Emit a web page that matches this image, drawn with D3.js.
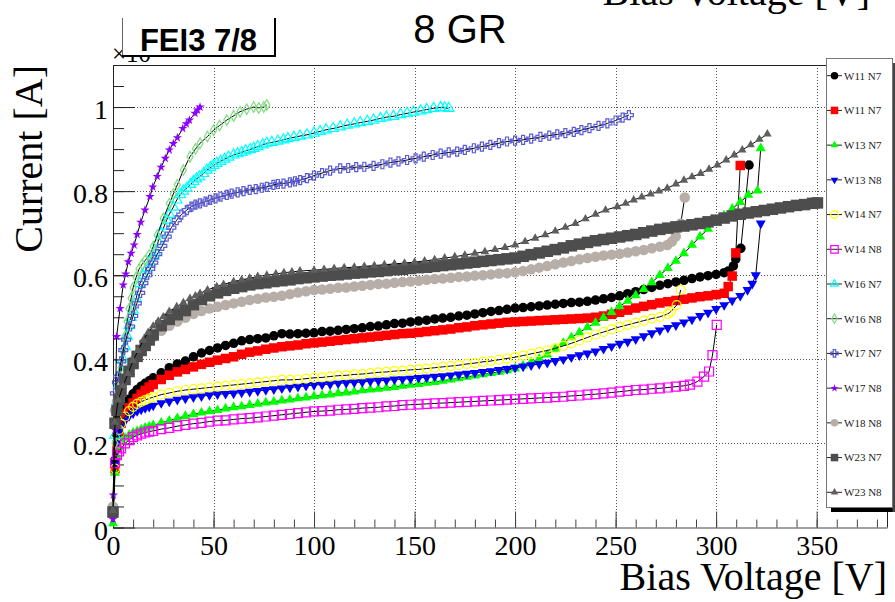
<!DOCTYPE html>
<html>
<head>
<meta charset="utf-8">
<script src="https://cdn.jsdelivr.net/npm/d3@7"></script>
<style>
  html, body { margin: 0; padding: 0; background: #fff; }
  svg { display: block; }
</style>
</head>
<body>
<svg id="chart" width="895" height="602"></svg>
<script>
// ---------------------------------------------------------------
// I-V scans of FE-I3 7/8 sensors, 8 guard rings.
// Current is in units of 1e-3 A, bias voltage in V.
// ---------------------------------------------------------------

// Bias steps of the standard sweep (V)
const sweepV = [0, 1, 2, 3, 4, 6, 8, 10, 12, 14, 16, 18, 20,
  24, 28, 32, 36, 40, 44, 48, 52, 56, 60, 64, 68, 72, 76, 80, 84, 88, 92, 96, 100,
  104, 108, 112, 116, 120, 124, 128, 132, 136, 140, 144, 148, 152, 156, 160, 164, 168, 172, 176, 180, 184, 188, 192, 196, 200,
  204, 208, 212, 216, 220, 224, 228, 232, 236, 240, 244, 248, 252, 256, 260, 264, 268, 272, 276, 280, 284, 288, 292, 296, 300, 304,
  308, 312, 316, 320, 324, 328, 332, 336, 340, 344, 348];

// W11 N7 (black) - sweep currents, then points through breakdown
const iW11N7a = [0.030, 0.160, 0.220, 0.252, 0.268, 0.288, 0.305, 0.318, 0.328, 0.336, 0.343, 0.349, 0.356,
  0.368, 0.380, 0.389, 0.396, 0.406, 0.415, 0.421, 0.427, 0.433, 0.438, 0.444, 0.447, 0.449, 0.451, 0.456, 0.461, 0.460, 0.461, 0.462, 0.463,
  0.466, 0.467, 0.469, 0.471, 0.473, 0.475, 0.478, 0.479, 0.482, 0.485, 0.486, 0.489, 0.491, 0.493, 0.496, 0.498, 0.500, 0.503, 0.505, 0.508, 0.511, 0.514, 0.516, 0.519, 0.522,
  0.523, 0.525, 0.527, 0.529, 0.531, 0.533, 0.535, 0.536, 0.538, 0.541, 0.544, 0.547, 0.551, 0.556, 0.561, 0.566, 0.571, 0.576, 0.580, 0.584, 0.588, 0.592, 0.596, 0.599, 0.602, 0.606];
const tailVW11N7a = [306, 308.6, 309.8, 312.3, 316.4];
const tailIW11N7a = [0.610, 0.622, 0.638, 0.664, 0.862];

// W11 N7 (red)
const iW11N7b = [0.035, 0.140, 0.190, 0.228, 0.248, 0.270, 0.285, 0.296, 0.307, 0.317, 0.326, 0.334, 0.340,
  0.352, 0.362, 0.370, 0.376, 0.382, 0.388, 0.393, 0.398, 0.402, 0.406, 0.412, 0.417, 0.420, 0.424, 0.427, 0.430, 0.432, 0.434, 0.437, 0.439,
  0.441, 0.443, 0.445, 0.447, 0.449, 0.451, 0.453, 0.455, 0.457, 0.459, 0.461, 0.462, 0.464, 0.466, 0.468, 0.470, 0.472, 0.475, 0.477, 0.480, 0.482, 0.484, 0.486, 0.488, 0.489,
  0.490, 0.491, 0.492, 0.493, 0.494, 0.495, 0.496, 0.497, 0.498, 0.500, 0.503, 0.507, 0.512, 0.517, 0.522, 0.526, 0.530, 0.534, 0.537, 0.540, 0.543, 0.546, 0.549, 0.551, 0.554, 0.557];
const tailVW11N7b = [306, 308, 309.8, 312];
const tailIW11N7b = [0.573, 0.598, 0.653, 0.861];

// W13 N7 (green)
const iW13N7 = [0.010, 0.130, 0.170, 0.192, 0.203, 0.213, 0.220, 0.225, 0.229, 0.233, 0.237, 0.240, 0.243,
  0.249, 0.254, 0.260, 0.265, 0.269, 0.273, 0.276, 0.279, 0.283, 0.286, 0.288, 0.291, 0.294, 0.297, 0.299, 0.302, 0.304, 0.307, 0.309, 0.312,
  0.314, 0.316, 0.319, 0.321, 0.323, 0.326, 0.328, 0.330, 0.332, 0.334, 0.337, 0.339, 0.341, 0.344, 0.346, 0.349, 0.352, 0.355, 0.358, 0.361, 0.364, 0.367, 0.370, 0.374, 0.378,
  0.385, 0.393, 0.401, 0.411, 0.425, 0.439, 0.452, 0.464, 0.476, 0.487, 0.499, 0.512, 0.526, 0.539, 0.552, 0.567, 0.583, 0.600, 0.617, 0.634, 0.652, 0.672, 0.692, 0.710, 0.726, 0.742,
  0.758, 0.774, 0.791];
const tailVW13N7 = [320.6, 322.2];
const tailIW13N7 = [0.801, 0.902];

// W13 N8 (blue)
const iW13N8 = [0.025, 0.150, 0.200, 0.225, 0.238, 0.254, 0.265, 0.272, 0.277, 0.281, 0.284, 0.287, 0.290,
  0.296, 0.300, 0.304, 0.307, 0.310, 0.312, 0.315, 0.317, 0.318, 0.319, 0.321, 0.323, 0.325, 0.327, 0.329, 0.331, 0.333, 0.335, 0.337, 0.339,
  0.340, 0.341, 0.343, 0.344, 0.345, 0.346, 0.348, 0.349, 0.350, 0.352, 0.353, 0.354, 0.356, 0.357, 0.359, 0.360, 0.362, 0.364, 0.366, 0.368, 0.370, 0.372, 0.375, 0.377, 0.380,
  0.383, 0.386, 0.389, 0.392, 0.396, 0.400, 0.405, 0.410, 0.414, 0.419, 0.425, 0.431, 0.437, 0.442, 0.448, 0.455, 0.462, 0.469, 0.475, 0.481, 0.488, 0.495, 0.503, 0.511, 0.520, 0.529,
  0.540, 0.551];
const tailVW13N8 = [315.6, 318, 319.7, 322.2];
const tailIW13N8 = [0.565, 0.580, 0.600, 0.723];

// W14 N7 (yellow)
const iW14N7 = [0.030, 0.140, 0.200, 0.232, 0.247, 0.264, 0.277, 0.287, 0.294, 0.299, 0.303, 0.307, 0.310,
  0.316, 0.320, 0.324, 0.327, 0.329, 0.331, 0.333, 0.335, 0.337, 0.339, 0.341, 0.343, 0.345, 0.347, 0.349, 0.351, 0.351, 0.352, 0.354, 0.356,
  0.357, 0.359, 0.361, 0.362, 0.364, 0.365, 0.367, 0.369, 0.370, 0.372, 0.373, 0.375, 0.376, 0.378, 0.380, 0.382, 0.384, 0.386, 0.389, 0.391, 0.394, 0.396, 0.399, 0.402, 0.405,
  0.409, 0.413, 0.417, 0.421, 0.426, 0.432, 0.438, 0.445, 0.452, 0.459, 0.465, 0.471, 0.477, 0.482, 0.487, 0.492, 0.497, 0.501, 0.508];
const tailVW14N7 = [277.4, 280.4, 282.4];
const tailIW14N7 = [0.513, 0.529, 0.565];

// W14 N8 (magenta)
const iW14N8 = [0.035, 0.153, 0.172, 0.181, 0.188, 0.200, 0.208, 0.215, 0.219, 0.223, 0.226, 0.228, 0.230,
  0.234, 0.237, 0.241, 0.244, 0.247, 0.249, 0.252, 0.254, 0.255, 0.257, 0.259, 0.260, 0.262, 0.264, 0.266, 0.268, 0.270, 0.272, 0.274, 0.276,
  0.277, 0.278, 0.280, 0.281, 0.282, 0.284, 0.285, 0.286, 0.288, 0.289, 0.291, 0.292, 0.293, 0.294, 0.295, 0.296, 0.297, 0.298, 0.299, 0.300, 0.301, 0.302, 0.303, 0.304, 0.305,
  0.306, 0.307, 0.308, 0.309, 0.310, 0.311, 0.313, 0.314, 0.316, 0.317, 0.319, 0.321, 0.323, 0.325, 0.327, 0.328, 0.330, 0.331, 0.333, 0.335, 0.337];
const tailVW14N8 = [287, 290.7, 294, 296.5, 298.2, 300.3];
const tailIW14N8 = [0.340, 0.347, 0.359, 0.371, 0.410, 0.482];

// W16 N7 (cyan) [V, I]
const ivW16N7 = [[0, 0.04], [1, 0.22], [2, 0.30], [3, 0.34], [4, 0.37], [5, 0.40], [6, 0.43], [7, 0.455], [8, 0.48], [9, 0.50],
  [10, 0.517], [11.5, 0.545], [13.4, 0.58], [15, 0.60], [16.7, 0.615], [18.4, 0.63], [20, 0.645], [21, 0.655], [22.5, 0.68], [24, 0.70],
  [25.5, 0.717], [26.7, 0.731], [28, 0.745], [30, 0.762], [31.7, 0.779], [33.5, 0.792], [35, 0.80], [36.7, 0.807], [38.5, 0.816], [40, 0.823],
  [41.5, 0.829], [43, 0.834], [45, 0.842], [46.7, 0.85], [48.5, 0.856], [50, 0.861], [51.6, 0.866], [53.5, 0.871], [55.5, 0.876], [57.5, 0.881],
  [60, 0.886], [62, 0.889], [64, 0.892], [66, 0.896], [68.2, 0.899], [70, 0.902], [72, 0.906], [74.5, 0.91], [76.5, 0.914], [79, 0.916],
  [82, 0.919], [84.8, 0.922], [87, 0.925], [90, 0.928], [93, 0.931], [96.5, 0.934], [100, 0.938], [103, 0.942], [106, 0.946], [109.5, 0.949],
  [113, 0.953], [116.5, 0.957], [120, 0.96], [123, 0.963], [126.5, 0.966], [129.6, 0.969], [133, 0.973], [136, 0.976], [139.5, 0.978], [143, 0.982],
  [146.3, 0.985], [149.5, 0.988], [153, 0.991], [156, 0.994], [159.5, 0.997], [163, 0.999], [165, 0.998], [167, 0.997]];

// W16 N8 (light green) [V, I]
const ivW16N8 = [[0, 0.04], [1, 0.2], [2, 0.29], [3, 0.34], [4, 0.38], [5, 0.42], [6, 0.455], [7, 0.49], [8, 0.52], [9, 0.545],
  [10, 0.57], [11.5, 0.595], [13, 0.615], [14.5, 0.626], [16, 0.635], [18, 0.648], [20, 0.668], [22, 0.695], [25, 0.735], [28, 0.77],
  [30, 0.793], [32, 0.815], [35, 0.85], [38.3, 0.882], [41, 0.9], [43.3, 0.914], [47, 0.93], [50, 0.945], [53, 0.956], [56.6, 0.969],
  [60, 0.979], [63.2, 0.989], [66.5, 0.995], [70, 1.0], [72.5, 0.998], [75, 1.0], [76.5, 1.005]];

// W17 N7 (slate blue) [V, I]
const ivW17N7 = [[0, 0.04], [1, 0.319], [2, 0.345], [2.6, 0.359], [4, 0.395], [5.1, 0.422], [6.5, 0.447], [8.5, 0.478], [10, 0.503], [11.8, 0.533],
  [13.5, 0.558], [15.1, 0.581], [17, 0.60], [18.5, 0.615], [20, 0.63], [22, 0.65], [24.5, 0.67], [26.7, 0.692], [29, 0.713], [31.7, 0.731],
  [34, 0.744], [36.7, 0.755], [39, 0.763], [41, 0.768], [43.3, 0.771], [46, 0.775], [48.3, 0.779], [51, 0.783], [53.5, 0.787], [56.6, 0.791],
  [59, 0.794], [62, 0.797], [64.9, 0.80], [68, 0.803], [71, 0.805], [74, 0.808], [76.5, 0.81], [79.8, 0.815], [82, 0.817], [84.8, 0.818],
  [88, 0.821], [90.5, 0.823], [93.1, 0.826], [96.5, 0.831], [100, 0.837], [104, 0.843], [108, 0.849], [113, 0.854], [117, 0.855], [121, 0.857],
  [125, 0.858], [129.6, 0.86], [134, 0.864], [138, 0.868], [142, 0.871], [146.3, 0.874], [150.5, 0.878], [154.6, 0.882], [159, 0.886], [163, 0.889],
  [167, 0.892], [171.2, 0.894], [175, 0.898], [179.5, 0.902], [183.5, 0.906], [187.7, 0.91], [192, 0.914], [196, 0.918], [200, 0.920], [204, 0.922],
  [208, 0.925], [212.6, 0.929], [217, 0.932], [221, 0.935], [225, 0.938], [229.2, 0.941], [233, 0.945], [237, 0.95], [241.5, 0.955], [245.9, 0.961],
  [250, 0.968], [253.5, 0.975], [256.6, 0.981]];

// W17 N8 (violet) [V, I]
const ivW17N8 = [[0, 0.02], [0.2, 0.077], [1, 0.232], [1.8, 0.454], [3.5, 0.521], [5.1, 0.577], [6.3, 0.603], [7.6, 0.632], [9, 0.652], [10.5, 0.672],
  [12, 0.697], [13.8, 0.726], [15.9, 0.755], [18.4, 0.787], [19.8, 0.81], [22, 0.835], [23.9, 0.857], [26, 0.878], [28, 0.898], [30, 0.913],
  [32, 0.927], [34.7, 0.949], [36.5, 0.96], [38, 0.969], [40.8, 0.985], [42, 0.993], [43.3, 1.0]];

// W18 N8 (grey-brown)
const iW18N8 = [0.050, 0.279, 0.300, 0.318, 0.333, 0.357, 0.378, 0.397, 0.410, 0.423, 0.434, 0.444, 0.453,
  0.468, 0.480, 0.490, 0.499, 0.508, 0.515, 0.521, 0.525, 0.529, 0.533, 0.537, 0.541, 0.544, 0.547, 0.549, 0.551, 0.555, 0.559, 0.562, 0.565,
  0.566, 0.568, 0.570, 0.571, 0.573, 0.575, 0.577, 0.579, 0.580, 0.582, 0.584, 0.585, 0.587, 0.589, 0.591, 0.592, 0.594, 0.596, 0.597, 0.599, 0.600, 0.602, 0.604, 0.605, 0.607,
  0.610, 0.614, 0.618, 0.622, 0.626, 0.630, 0.634, 0.638, 0.641, 0.644, 0.647, 0.649, 0.651, 0.654, 0.657, 0.660, 0.664, 0.668];
const tailVW18N8 = [275.7, 278, 279.9, 282.4, 284.4];
const tailIW18N8 = [0.672, 0.680, 0.692, 0.723, 0.785];

// W23 N7 (dark grey)
const iW23N7 = [0.037, 0.248, 0.278, 0.305, 0.325, 0.352, 0.371, 0.390, 0.407, 0.421, 0.433, 0.446, 0.458,
  0.480, 0.495, 0.506, 0.516, 0.530, 0.542, 0.551, 0.558, 0.564, 0.569, 0.573, 0.577, 0.580, 0.582, 0.585, 0.587, 0.589, 0.592, 0.594, 0.596,
  0.598, 0.600, 0.601, 0.603, 0.605, 0.606, 0.608, 0.609, 0.611, 0.613, 0.614, 0.616, 0.618, 0.619, 0.621, 0.623, 0.625, 0.627, 0.629, 0.631, 0.633, 0.635, 0.637, 0.639, 0.641,
  0.645, 0.649, 0.653, 0.657, 0.661, 0.665, 0.670, 0.674, 0.678, 0.682, 0.685, 0.688, 0.691, 0.694, 0.697, 0.701, 0.705, 0.709, 0.712, 0.715, 0.717, 0.720, 0.723, 0.727, 0.731, 0.736,
  0.741, 0.745, 0.748, 0.751, 0.754, 0.757, 0.760, 0.763, 0.766, 0.768, 0.771];
const tailVW23N7 = [350.4];
const tailIW23N7 = [0.772];

// W23 N8 (grey triangles) [V, I]
const ivW23N8 = [[0, 0.04], [1, 0.25], [2.6, 0.303], [5, 0.337], [7.5, 0.366], [10, 0.397], [12.5, 0.421], [15, 0.445], [17.5, 0.464], [20, 0.479],
  [22.5, 0.491], [25, 0.501], [28, 0.514], [31.7, 0.525], [35, 0.535], [38.3, 0.545], [41, 0.551], [43.3, 0.557], [47, 0.565], [51.6, 0.573],
  [55, 0.578], [60, 0.585], [64, 0.589], [68, 0.593], [72, 0.597], [76.5, 0.600], [81, 0.603], [85, 0.606], [89, 0.608], [93, 0.610],
  [100, 0.612], [105, 0.614], [110, 0.616], [115, 0.618], [120, 0.619], [125, 0.621], [130, 0.623], [135, 0.625], [140, 0.627], [145, 0.629],
  [150, 0.631], [155, 0.634], [160, 0.637], [165, 0.641], [170, 0.644], [175, 0.648], [180, 0.652], [185, 0.656], [190, 0.661], [195, 0.666],
  [200, 0.672], [205, 0.680], [210, 0.688], [215, 0.696], [220, 0.705], [225, 0.714], [230, 0.723], [235, 0.734], [240, 0.745], [245, 0.755],
  [250.8, 0.763], [255, 0.771], [259, 0.779], [263, 0.786], [267.4, 0.793], [271.5, 0.800], [275.7, 0.807], [280, 0.817], [284, 0.826], [288, 0.834],
  [292.3, 0.842], [296.5, 0.852], [300.6, 0.862], [305, 0.874], [309, 0.886], [313, 0.898], [317.2, 0.910], [321.5, 0.923], [325.5, 0.936]];

// Legend / series labels, in drawing order
const seriesNames = ["W11 N7", "W11 N7", "W13 N7", "W13 N8", "W14 N7", "W14 N8", "W16 N7",
  "W16 N8", "W17 N7", "W17 N8", "W18 N8", "W23 N7", "W23 N8"];

// Axis ticks
const xMajorTicks = [0, 50, 100, 150, 200, 250, 300, 350];
const xTickLabels = ["0", "50", "100", "150", "200", "250", "300", "350"];
const yMajorTicks = [0, 0.2, 0.4, 0.6, 0.8, 1.0];
const yTickLabels = ["0", "0.2", "0.4", "0.6", "0.8", "1"];

// ---------------------------------------------------------------
// helpers to assemble [V, I] point lists
function onSweep(currents, tailV, tailI) {
  const pts = currents.map((c, k) => [sweepV[k], c]);
  tailV.forEach((v, k) => pts.push([v, tailI[k]]));
  return pts;
}

const seriesPoints = [
  onSweep(iW11N7a, tailVW11N7a, tailIW11N7a),
  onSweep(iW11N7b, tailVW11N7b, tailIW11N7b),
  onSweep(iW13N7, tailVW13N7, tailIW13N7),
  onSweep(iW13N8, tailVW13N8, tailIW13N8),
  onSweep(iW14N7, tailVW14N7, tailIW14N7),
  onSweep(iW14N8, tailVW14N8, tailIW14N8),
  ivW16N7,
  ivW16N8,
  ivW17N7,
  ivW17N8,
  onSweep(iW18N8, tailVW18N8, tailIW18N8),
  onSweep(iW23N7, tailVW23N7, tailIW23N7),
  ivW23N8
];

// marker styles (ROOT-like)
const markerStyles = [
  { color: "#000000", shape: "circle",   open: false, size: 9.5 },
  { color: "#ff0000", shape: "square",   open: false, size: 9.5 },
  { color: "#00ff00", shape: "triangle", open: false, size: 10 },
  { color: "#0000ff", shape: "triangleDown", open: false, size: 10 },
  { color: "#ffff00", shape: "circle",   open: true,  size: 9 },
  { color: "#ff00ff", shape: "square",   open: true,  size: 9 },
  { color: "#00ffff", shape: "triangle", open: true,  size: 10.5 },
  { color: "#80dc80", shape: "diamond",  open: true,  size: 8.5 },
  { color: "#5a5ad2", shape: "cross",    open: true,  size: 9 },
  { color: "#8c00ff", shape: "star",     open: false, size: 9 },
  { color: "#b7aea7", shape: "circle",   open: false, size: 10.5 },
  { color: "#4d4d4d", shape: "square",   open: false, size: 11.5 },
  { color: "#5e5e5e", shape: "triangle", open: false, size: 8.5 }
];

function symbolPath(shape, s) {
  const sym = d3.symbol();
  switch (shape) {
    case "circle": sym.type(d3.symbolCircle).size(Math.PI * s * s / 4); break;
    case "square": sym.type(d3.symbolSquare).size(s * s); break;
    case "triangle":
    case "triangleDown": sym.type(d3.symbolTriangle).size(0.433 * s * s); break;
    case "diamond": sym.type(d3.symbolDiamond).size(0.45 * s * s); break;
    case "cross": sym.type(d3.symbolCross).size(0.556 * s * s); break;
    case "star": sym.type(d3.symbolStar).size(0.33 * s * s); break;
  }
  return sym();
}

// ---------------------------------------------------------------
const serif = '"Liberation Serif", "Times New Roman", Times, serif';
const sans = '"Liberation Sans", Arial, Helvetica, sans-serif';

const svg = d3.select("#chart");
const frame = { left: 113, right: 887, top: 65, bottom: 527.5 };

const x = d3.scaleLinear().domain([0, 385]).range([frame.left, frame.right]);
const y = d3.scaleLinear().domain([0, 1.1]).range([frame.bottom, frame.top]);

svg.append("rect").attr("width", 895).attr("height", 602).attr("fill", "#fff");

// dotted grid
const grid = svg.append("g").attr("stroke", "#555").attr("stroke-width", 1)
  .attr("stroke-dasharray", "1,2").attr("fill", "none");
grid.selectAll("line.gx").data(xMajorTicks.filter(d => d > 0)).join("line")
  .attr("class", "gx")
  .attr("x1", d => Math.round(x(d)) + 0.5).attr("x2", d => Math.round(x(d)) + 0.5)
  .attr("y1", frame.top).attr("y2", frame.bottom);
grid.selectAll("line.gy").data(yMajorTicks.filter(d => d > 0)).join("line")
  .attr("class", "gy")
  .attr("y1", d => Math.round(y(d)) + 0.5).attr("y2", d => Math.round(y(d)) + 0.5)
  .attr("x1", frame.left).attr("x2", frame.right);

// frame top / right
svg.append("path")
  .attr("d", `M${frame.left},${frame.top + 0.5}H${frame.right + 0.5}V${frame.bottom}`)
  .attr("fill", "none").attr("stroke", "#222").attr("stroke-width", 1);

// x axis (ticks point into the frame)
const xAxisG = svg.append("g").attr("transform", `translate(0,${frame.bottom})`);
xAxisG.append("g")
  .call(d3.axisBottom(x).tickValues(d3.range(0, 381, 10)).tickSize(-8).tickSizeOuter(0).tickFormat(""))
  .call(g => g.select(".domain").remove());
xAxisG.append("g")
  .call(d3.axisBottom(x).tickValues(xMajorTicks).tickSize(-16).tickSizeOuter(0)
    .tickFormat((d, i) => xTickLabels[i]));
xAxisG.selectAll("line, path").attr("stroke", "#444");
xAxisG.selectAll("g").attr("font-family", null);
xAxisG.selectAll("text")
  .attr("y", 27.5).attr("dy", null)
  .style("font-family", serif).style("font-size", "28px").attr("fill", "#000");

// y axis
const yAxisG = svg.append("g").attr("transform", `translate(${frame.left},0)`);
yAxisG.append("g")
  .call(d3.axisLeft(y).tickValues(d3.range(0, 1.1001, 0.05)).tickSize(-11).tickSizeOuter(0).tickFormat(""))
  .call(g => g.select(".domain").remove());
yAxisG.append("g")
  .call(d3.axisLeft(y).tickValues(yMajorTicks).tickSize(-22).tickSizeOuter(0).tickPadding(5)
    .tickFormat((d, i) => yTickLabels[i]));
yAxisG.selectAll("line, path").attr("stroke", "#222");
yAxisG.selectAll("text")
  .attr("dy", null).attr("y", 11.5)
  .style("font-family", serif).style("font-size", "28px").attr("fill", "#000");

// exponent label, partly covered by the pave below
svg.append("text").attr("x", 112).attr("y", 62)
  .attr("font-family", serif).attr("font-size", 25).text("\u00d710");

// ---------------------------------------------------------------
// curves
const line = d3.line().x(d => x(d[0])).y(d => y(d[1]));
const curves = svg.append("g");
seriesPoints.forEach((pts, k) => {
  const st = markerStyles[k];
  const g = curves.append("g");
  g.append("path").datum(pts).attr("d", line)
    .attr("fill", "none").attr("stroke", "#000").attr("stroke-width", 1);
  const p = symbolPath(st.shape, st.size);
  g.selectAll("path.m").data(pts).join("path")
    .attr("class", "m")
    .attr("d", p)
    .attr("transform", d => `translate(${x(d[0])},${y(d[1])})` + (st.shape === "triangleDown" ? " rotate(180)" : ""))
    .attr("fill", st.open ? "none" : st.color)
    .attr("stroke", st.open ? st.color : "none")
    .attr("stroke-width", st.open ? 1.2 : 0);
});

// ---------------------------------------------------------------
// legend
const legend = svg.append("g");
legend.append("rect").attr("x", 831).attr("y", 507.5).attr("width", 70).attr("height", 4.5).attr("fill", "#000");
legend.append("rect").attr("x", 892.5).attr("y", 63).attr("width", 6).attr("height", 449).attr("fill", "#444");
legend.append("rect").attr("x", 826.5).attr("y", 58.5).attr("width", 66).attr("height", 449)
  .attr("fill", "#fff").attr("stroke", "#777").attr("stroke-width", 1);

const rowY = d3.scaleLinear().domain([0, 12]).range([75.7, 492.3]);
seriesNames.forEach((name, k) => {
  const st = markerStyles[k];
  const yy = rowY(k);
  legend.append("line").attr("x1", 827).attr("x2", 842).attr("y1", yy).attr("y2", yy)
    .attr("stroke", "#222").attr("stroke-width", 1);
  legend.append("path").attr("d", symbolPath(st.shape, Math.min(st.size, 7.5)))
    .attr("transform", `translate(834.5,${yy})` + (st.shape === "triangleDown" ? " rotate(180)" : ""))
    .attr("fill", st.open ? "none" : st.color)
    .attr("stroke", st.open ? st.color : "none").attr("stroke-width", st.open ? 1.2 : 0);
  legend.append("text").attr("x", 844).attr("y", yy + 3.8)
    .attr("font-family", serif).attr("font-size", 11).attr("fill", "#222").text(name);
});

// ---------------------------------------------------------------
// pave with the sensor type
const pave = svg.append("g");
pave.append("rect").attr("x", 122.5).attr("y", 10).attr("width", 152.5).attr("height", 46).attr("fill", "#fff");
pave.append("line").attr("x1", 122.5).attr("x2", 122.5).attr("y1", 18).attr("y2", 56)
  .attr("stroke", "#666").attr("stroke-width", 1);
pave.append("path").attr("d", "M122,56H275V18").attr("fill", "none")
  .attr("stroke", "#000").attr("stroke-width", 2);
pave.append("text").attr("x", 198.5).attr("y", 51).attr("text-anchor", "middle")
  .attr("font-family", sans).attr("font-weight", "bold").attr("font-size", 31).text("FEI3 7/8");

// title
svg.append("text").attr("x", 460).attr("y", 43).attr("text-anchor", "middle")
  .attr("font-family", sans).attr("font-size", 40).text("8 GR");

// axis titles
svg.append("text").attr("x", 887).attr("y", 590).attr("text-anchor", "end")
  .attr("font-family", serif).attr("font-size", 40).text("Bias Voltage [V]");
svg.append("text").attr("x", 870).attr("y", 5).attr("text-anchor", "end")
  .attr("font-family", serif).attr("font-size", 40).text("Bias Voltage [V]");
svg.append("text").attr("transform", `translate(42,${frame.top}) rotate(-90)`)
  .attr("text-anchor", "end")
  .attr("font-family", serif).attr("font-size", 40).text("Current [A]");
</script>
</body>
</html>
